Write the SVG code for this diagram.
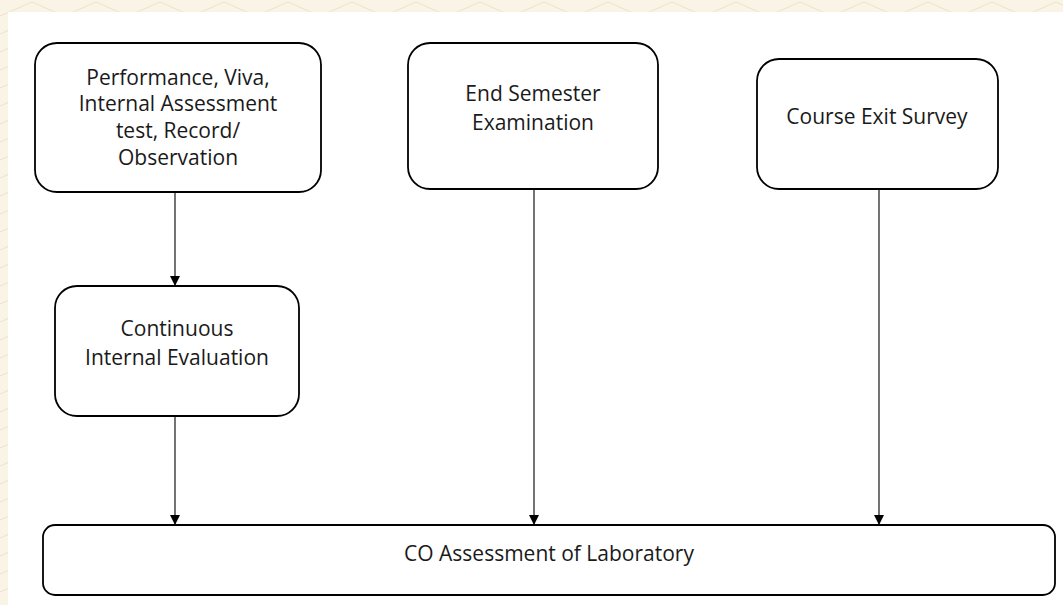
<svg xmlns="http://www.w3.org/2000/svg" width="1063" height="605" viewBox="0 0 1063 605">
<defs>
<pattern id="bgpat" width="64" height="18" patternUnits="userSpaceOnUse">
<path d="M0,16 L32,2 L64,16" fill="none" stroke="#ebe2cb" stroke-width="1"/>
</pattern>
<marker id="arr" viewBox="0 0 10 10" refX="10" refY="5" markerWidth="10" markerHeight="10" markerUnits="userSpaceOnUse" orient="auto">
<path d="M0,0 L10,5 L0,10 Z" fill="#000"/>
</marker>
</defs>
<style>
.box{fill:#fff;stroke:#000;stroke-width:1.8}
.lbl{font-family:"Open Sans","Noto Sans",sans-serif;font-size:21px;fill:#1a1a1a;text-anchor:middle}
.con{stroke:#000;stroke-width:1.1;fill:none}
</style>
<rect x="0" y="0" width="1063" height="605" fill="#f9f4e6"/>
<rect x="0" y="0" width="1063" height="605" fill="url(#bgpat)"/>
<rect x="8" y="12" width="1055" height="593" fill="#fff"/>
<g id="connectors">
<line class="con" x1="175" y1="192" x2="175" y2="286" marker-end="url(#arr)"/>
<line class="con" x1="175" y1="416" x2="175" y2="525" marker-end="url(#arr)"/>
<line class="con" x1="534" y1="189" x2="534" y2="525" marker-end="url(#arr)"/>
<line class="con" x1="879" y1="189" x2="879" y2="525" marker-end="url(#arr)"/>
</g>
<g id="node-performance">
<rect class="box" x="35" y="43" width="286" height="149" rx="22"/>
<text class="lbl"><tspan x="178" y="85">Performance, Viva,</tspan><tspan x="178" y="111">Internal Assessment</tspan><tspan x="178" y="138">test, Record/</tspan><tspan x="178" y="165">Observation</tspan></text>
</g>
<g id="node-endsem">
<rect class="box" x="408" y="43" width="250" height="146" rx="22"/>
<text class="lbl"><tspan x="533" y="101">End Semester</tspan><tspan x="533" y="130">Examination</tspan></text>
</g>
<g id="node-exit">
<rect class="box" x="757" y="59" width="241" height="130" rx="22"/>
<text class="lbl" x="877" y="124">Course Exit Survey</text>
</g>
<g id="node-cie">
<rect class="box" x="55" y="286" width="244" height="130" rx="22"/>
<text class="lbl"><tspan x="177" y="336">Continuous</tspan><tspan x="177" y="365">Internal Evaluation</tspan></text>
</g>
<g id="node-co">
<rect class="box" x="43" y="525" width="1012" height="70" rx="12"/>
<text class="lbl" x="549" y="561">CO Assessment of Laboratory</text>
</g>
</svg>
